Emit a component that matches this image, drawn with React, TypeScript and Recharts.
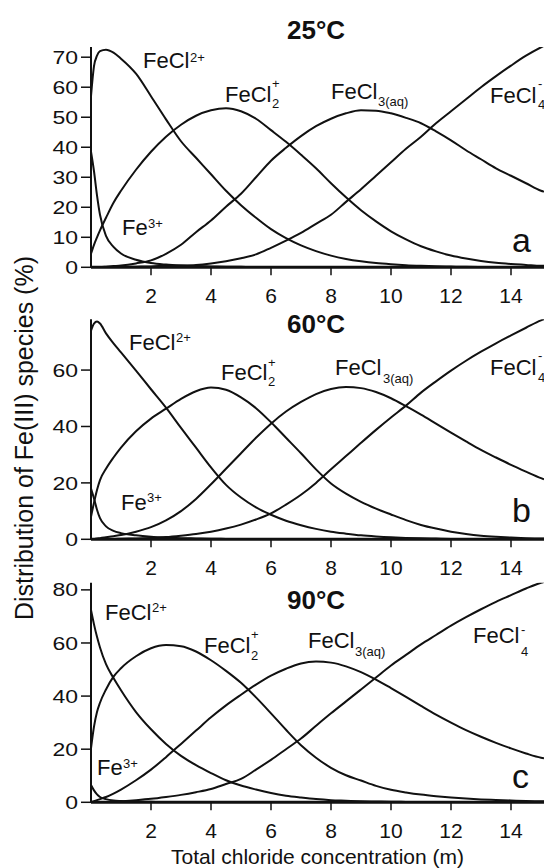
import React from 'react';
import { LineChart, Line, XAxis, YAxis } from 'recharts';

// Total chloride concentration (m)
const chloride = [0, 0.1, 0.2, 0.3, 0.5, 0.75, 1, 1.5, 2, 2.5, 3, 3.5, 4, 4.5, 5, 5.5, 6, 6.5, 7, 7.5, 8, 8.5, 9, 9.5, 10, 10.5, 11, 11.5, 12, 12.5, 13, 13.5, 14, 14.5, 15, 15.1];

const xTicks = [2, 4, 6, 8, 10, 12, 14];

// 25 °C
const fe3_25 = [38.5, 32, 24, 17.5, 10.5, 6.8, 4.6, 2.5, 1.4, 0.9, 0.6, 0.4, 0.3, 0.2, 0.15, 0.1, 0.1, 0.05, 0.05, 0, 0, 0, 0, 0, 0, 0, 0, 0, 0, 0, 0, 0, 0, 0, 0, 0];
const fecl_25 = [57, 67, 70.5, 72, 72.5, 71.5, 69.5, 64.5, 57, 49.3, 42, 36.5, 31, 25.5, 20.7, 16.5, 12.7, 9.7, 7.3, 5.4, 3.9, 2.8, 2, 1.4, 1, 0.7, 0.5, 0.35, 0.25, 0.15, 0.1, 0.1, 0.05, 0, 0, 0];
const fecl2_25 = [4.5, 7.5, 10, 12.3, 16.5, 21.5, 25.5, 32.5, 38.5, 43.5, 47.5, 50.5, 52.3, 53, 52, 49.5, 45.7, 41.8, 37.5, 33, 28, 23.3, 19, 15.3, 12, 9.3, 7, 5.3, 3.9, 2.9, 2.1, 1.5, 1.1, 0.8, 0.5, 0.5];
const fecl3_25 = [0, 0, 0.1, 0.1, 0.2, 0.4, 0.6, 1.3, 2.3, 4.5, 7.5, 11.7, 15.6, 20.2, 24.5, 30, 35.5, 39.8, 43.7, 47, 49.5, 51.3, 52.3, 52.2, 51.3, 49.8, 48, 45.3, 42.3, 39, 36, 33, 30.5, 28, 25.5, 25.2];
const fecl4_25 = [0, 0, 0, 0, 0, 0, 0.1, 0.2, 0.3, 0.5, 0.6, 0.8, 1.3, 2, 3, 4.3, 6.5, 8.9, 11.5, 14.5, 17.5, 21.8, 26, 30.5, 35, 39.5, 43.5, 48, 52, 56, 60, 63.7, 67.2, 70.5, 73.3, 73.8];

// 60 °C
const fe3_60 = [18, 14.5, 10.5, 7.5, 4.6, 3, 2.2, 1.4, 0.9, 0.6, 0.4, 0.3, 0.2, 0.15, 0.1, 0.05, 0, 0, 0, 0, 0, 0, 0, 0, 0, 0, 0, 0, 0, 0, 0, 0, 0, 0, 0, 0];
const fecl_60 = [74, 76.5, 77.2, 76.5, 73, 69.5, 66.3, 59.8, 53.2, 46.7, 39.5, 32.5, 25.5, 19.3, 14.8, 11.3, 8.7, 6.6, 5, 3.7, 2.7, 2, 1.4, 1, 0.7, 0.5, 0.35, 0.25, 0.15, 0.1, 0.05, 0, 0, 0, 0, 0];
const fecl2_60 = [8, 13, 17.5, 21, 25, 29, 32.5, 38.3, 42.8, 46.3, 49.8, 52.5, 53.8, 53, 50.3, 46.5, 41.5, 36, 30.5, 24.8, 19.8, 16.2, 13.3, 10.9, 8.8, 6.8, 5.1, 3.8, 2.7, 1.9, 1.3, 0.9, 0.6, 0.4, 0.3, 0.3];
const fecl3_60 = [0, 0.1, 0.3, 0.4, 0.7, 1.1, 1.5, 2.7, 4.3, 6.7, 10, 14.3, 19.5, 25, 30.5, 36, 41, 45.3, 48.7, 51.5, 53.3, 54, 53.6, 52.2, 50, 47.2, 44.2, 41, 37.8, 34.7, 31.7, 29, 26.4, 24, 21.7, 21.3];
const fecl4_60 = [0, 0, 0, 0, 0.1, 0.1, 0.2, 0.3, 0.5, 0.8, 1.3, 1.9, 2.7, 3.8, 5.2, 7, 9.2, 12.3, 15.8, 20, 24.8, 29.5, 34.2, 38.8, 43.2, 47.4, 52, 56, 59.8, 63.3, 66.5, 69.5, 72.3, 75, 77.6, 78];

// 90 °C
const fe3_90 = [6.5, 4.5, 3, 2, 1.2, 0.7, 0.5, 0.3, 0.2, 0.1, 0.1, 0, 0, 0, 0, 0, 0, 0, 0, 0, 0, 0, 0, 0, 0, 0, 0, 0, 0, 0, 0, 0, 0, 0, 0, 0];
const fecl_90 = [72.4, 67, 62.3, 58.3, 52, 46.8, 42.2, 34, 27.5, 22, 17.5, 14, 11, 8.3, 6.3, 4.8, 3.5, 2.5, 1.8, 1.2, 0.8, 0.6, 0.4, 0.3, 0.2, 0.15, 0.1, 0.05, 0, 0, 0, 0, 0, 0, 0, 0];
const fecl2_90 = [20.3, 28.5, 34, 37.5, 42.5, 47.3, 50.5, 55, 58, 59.2, 58.8, 56.8, 53.5, 49.5, 45, 39.5, 33.5, 27.3, 21.5, 16.8, 13, 10.2, 8.2, 6.2, 4.7, 3.7, 2.9, 2.3, 1.8, 1.4, 1.1, 0.9, 0.7, 0.5, 0.4, 0.4];
const fecl3_90 = [0, 0.4, 0.8, 1.2, 2, 3.3, 4.8, 8.3, 12.3, 17, 22, 27, 32, 36.5, 40.5, 44.3, 47.7, 50.3, 52.3, 53, 52.6, 51.2, 49, 46.2, 43, 39.7, 36.3, 33, 30, 27.2, 24.7, 22.4, 20.3, 18.4, 16.8, 16.6];
const fecl4_90 = [0, 0, 0, 0, 0.1, 0.2, 0.4, 0.8, 1.3, 2, 2.8, 3.8, 5, 6.9, 8.8, 12.3, 16, 20, 24, 28.8, 33.5, 38, 42.5, 47, 51.5, 55.5, 59.5, 63, 66.5, 69.7, 72.7, 75.5, 78, 80.5, 82.7, 83];

const yTicksA = [0, 10, 20, 30, 40, 50, 60, 70];
const yTicksB = [0, 20, 40, 60];
const yTicksC = [0, 20, 40, 60, 80];

const keys = ['fe3', 'fecl', 'fecl2', 'fecl3', 'fecl4'];

function build(series: number[][]) {
  return chloride.map((x, i) => {
    const row: any = { x };
    keys.forEach((k, j) => {
      row[k] = series[j][i];
    });
    return row;
  });
}

const dataA = build([fe3_25, fecl_25, fecl2_25, fecl3_25, fecl4_25]);
const dataB = build([fe3_60, fecl_60, fecl2_60, fecl3_60, fecl4_60]);
const dataC = build([fe3_90, fecl_90, fecl2_90, fecl3_90, fecl4_90]);

const INK = '#111';
const FONT = '"Liberation Sans", Arial, Helvetica, sans-serif';

const YTick = (props: any) => {
  const { x, y, payload } = props;
  return (
    <text
      transform={`translate(${x},${y}) scale(1,0.8)`}
      textAnchor="end"
      dy="0.36em"
      fontSize={23}
      fill={INK}
      fontFamily={FONT}
    >
      {payload.value}
    </text>
  );
};

function Panel({ data, yMax, yTicks, top, bottom }: any) {
  return (
    <div style={{ position: 'absolute', left: 0, top: 0 }}>
      <LineChart width={544} height={868} data={data} margin={{ top, right: 0, left: 0, bottom }}>
        <XAxis
          dataKey="x"
          type="number"
          domain={[0, 15.1]}
          ticks={xTicks}
          allowDataOverflow
          height={30}
          tickSize={8}
          tickMargin={12.5}
          tick={{ fontSize: 21, fill: INK, fontFamily: FONT }}
          axisLine={{ stroke: INK, strokeWidth: 3 }}
          tickLine={{ stroke: INK, strokeWidth: 1.5 }}
        />
        <YAxis
          type="number"
          domain={[0, yMax]}
          ticks={yTicks}
          allowDataOverflow
          width={91}
          tickSize={10}
          tickMargin={3}
          tick={<YTick />}
          axisLine={{ stroke: INK, strokeWidth: 2 }}
          tickLine={{ stroke: INK, strokeWidth: 1.5 }}
        />
        {keys.map((k) => (
          <Line
            key={k}
            type="monotone"
            dataKey={k}
            stroke={INK}
            strokeWidth={2}
            dot={false}
            activeDot={false}
            isAnimationActive={false}
          />
        ))}
      </LineChart>
    </div>
  );
}

function Sp({ x, y, main, sub, sup, sx, subY, supY }: any) {
  return (
    <g fontFamily={FONT} fill={INK}>
      <text x={x} y={y} fontSize={22}>{main}</text>
      {sub ? <text x={sx} y={subY} fontSize={13}>{sub}</text> : null}
      {sup ? <text x={sx} y={supY} fontSize={13}>{sup}</text> : null}
    </g>
  );
}

function Labels() {
  return (
    <svg width={544} height={868} style={{ position: 'absolute', left: 0, top: 0, pointerEvents: 'none' }}>
      {/* panel a */}
      <text x={287} y={39} fontSize={26} fontWeight="bold" fontFamily={FONT} fill={INK}>25°C</text>
      <Sp x={143} y={68} main="FeCl" sup="2+" sx={190} supY={62} />
      <Sp x={225} y={101.5} main="FeCl" sub="2" sup="+" sx={272} subY={108} supY={88} />
      <Sp x={331} y={99} main="FeCl" sub="3(aq)" sx={378} subY={106} />
      <Sp x={490} y={103} main="FeCl" sub="4" sup="-" sx={538} subY={109} supY={88} />
      <Sp x={122} y={235} main="Fe" sup="3+" sx={148} supY={228} />
      <text x={512} y={252} fontSize={34} fontFamily={FONT} fill={INK}>a</text>

      {/* panel b */}
      <text x={287} y={333} fontSize={26} fontWeight="bold" fontFamily={FONT} fill={INK}>60°C</text>
      <Sp x={129} y={350} main="FeCl" sup="2+" sx={176} supY={342} />
      <Sp x={221} y={380} main="FeCl" sub="2" sup="+" sx={268} subY={386} supY={367} />
      <Sp x={335} y={375} main="FeCl" sub="3(aq)" sx={383} subY={383} />
      <Sp x={490} y={375} main="FeCl" sub="4" sup="-" sx={538} subY={382} supY={360} />
      <Sp x={121} y={510} main="Fe" sup="3+" sx={147} supY={502} />
      <text x={512} y={522} fontSize={34} fontFamily={FONT} fill={INK}>b</text>

      {/* panel c */}
      <text x={287} y={609} fontSize={26} fontWeight="bold" fontFamily={FONT} fill={INK}>90°C</text>
      <Sp x={105} y={620} main="FeCl" sup="2+" sx={152} supY={612} />
      <Sp x={204} y={653} main="FeCl" sub="2" sup="+" sx={251} subY={660} supY={639} />
      <Sp x={308} y={648} main="FeCl" sub="3(aq)" sx={355} subY={656} />
      <Sp x={473} y={643} main="FeCl" sub="4" sup="-" sx={521} subY={656} supY={634} />
      <Sp x={97} y={775} main="Fe" sup="3+" sx={123} supY={768} />
      <text x={512} y={788} fontSize={34} fontFamily={FONT} fill={INK}>c</text>

      {/* axis titles */}
      <text
        transform="translate(33,438) rotate(-90)"
        textAnchor="middle"
        fontSize={25}
        fontFamily={FONT}
        fill={INK}
      >
        Distribution of Fe(III) species (%)
      </text>
      <text x={317.5} y={863.5} textAnchor="middle" fontSize={21} fontFamily={FONT} fill={INK}>
        Total chloride concentration (m)
      </text>
    </svg>
  );
}

export default function App() {
  return (
    <div
      style={{
        position: 'absolute',
        left: 0,
        top: 0,
        width: 544,
        height: 868,
        background: '#fff',
        overflow: 'hidden',
        fontFamily: FONT,
      }}
    >
      <Panel data={dataA} yMax={73.4} yTicks={yTicksA} top={47} bottom={570.7} />
      <Panel data={dataB} yMax={78} yTicks={yTicksB} top={319.3} bottom={298.7} />
      <Panel data={dataC} yMax={82.7} yTicks={yTicksC} top={582.7} bottom={35.7} />
      <Labels />
    </div>
  );
}
